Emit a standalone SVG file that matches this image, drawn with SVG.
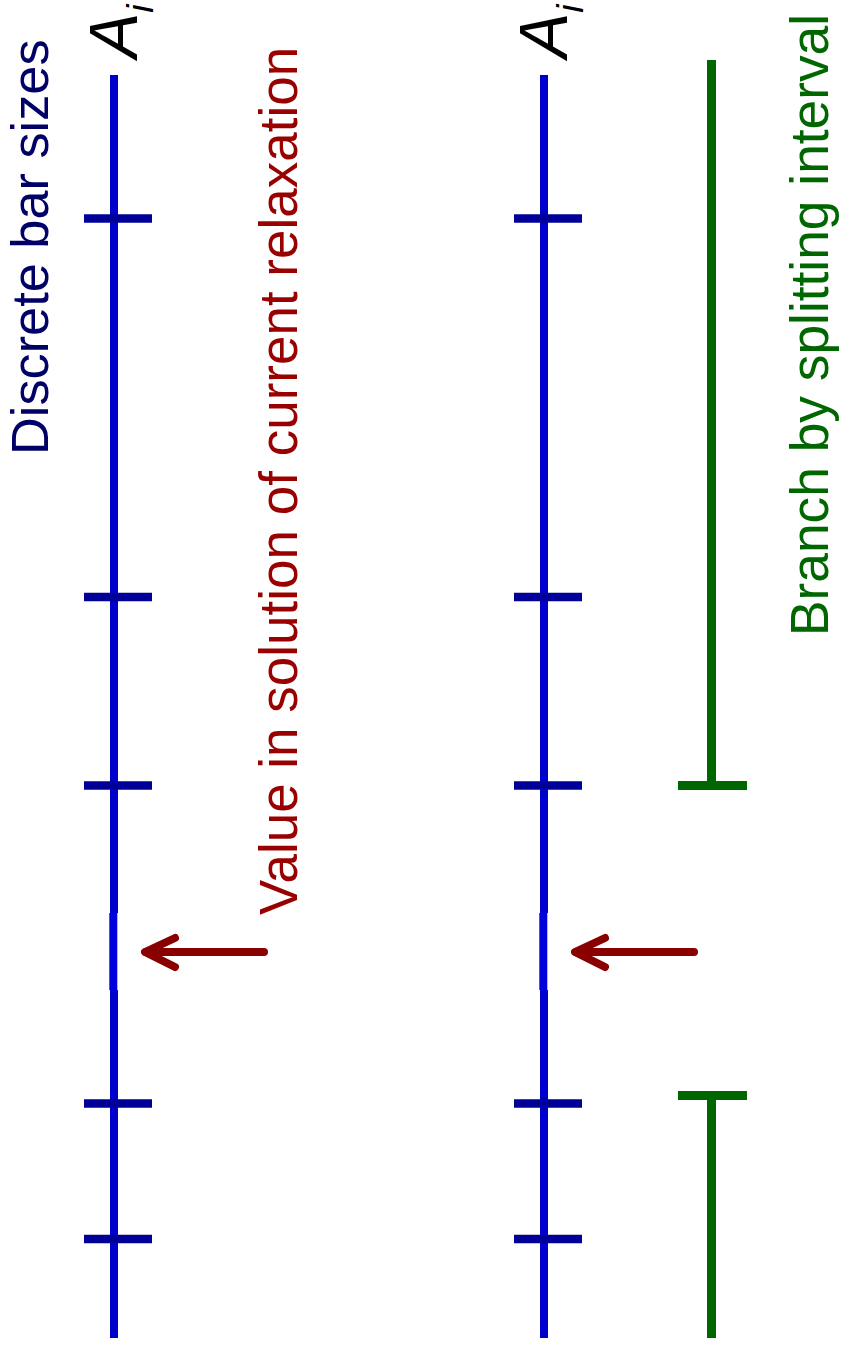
<svg xmlns="http://www.w3.org/2000/svg" width="841" height="1349" viewBox="0 0 841 1349">
<style>
.axis{stroke:#0000CC;stroke-width:8;fill:none}
.tick{stroke:#000099;stroke-width:8.5;fill:none}
.seg{stroke:#0000DD;stroke-width:8;fill:none}
.br{stroke:#006600;stroke-width:9;fill:none}
.arr{stroke:#880000;stroke-width:8;fill:none;stroke-linecap:round;stroke-linejoin:round}
.lbl{font-family:"Liberation Sans",Arial,sans-serif;font-size:52px}
.ai{font-family:"Liberation Sans",Arial,sans-serif;font-style:italic;font-size:68px;fill:#000}
</style>
<rect width="841" height="1349" fill="#fff"/>
<g id="label-discrete"><text class="lbl" fill="#000066" transform="translate(48,455) rotate(-90)" style="font-size:52.3px">Discrete bar sizes</text></g>
<g id="label-value"><text class="lbl" fill="#990000" transform="translate(297,915) rotate(-90)" style="font-size:53px">Value in solution of current relaxation</text></g>
<g id="label-branch"><text class="lbl" fill="#006600" transform="translate(828,636) rotate(-90)" style="font-size:53.3px">Branch by splitting interval</text></g>
<g id="axis-left">
<text class="ai" transform="translate(137,58) rotate(-90)">A<tspan font-size="37" dy="16">i</tspan></text>
<line class="axis" x1="114" y1="75" x2="114" y2="913"/>
<line class="axis" x1="114" y1="990" x2="114" y2="1338"/>
<line class="seg" x1="113.3" y1="913" x2="113.3" y2="990"/>
<line class="tick" x1="84" y1="218.5" x2="152" y2="218.5"/>
<line class="tick" x1="84" y1="597" x2="152" y2="597"/>
<line class="tick" x1="84" y1="785.5" x2="152" y2="785.5"/>
<line class="tick" x1="84" y1="1103.5" x2="152" y2="1103.5"/>
<line class="tick" x1="84" y1="1239" x2="152" y2="1239"/>
</g>
<g id="axis-right">
<text class="ai" transform="translate(567,58) rotate(-90)">A<tspan font-size="37" dy="16">i</tspan></text>
<line class="axis" x1="544" y1="75" x2="544" y2="913"/>
<line class="axis" x1="544" y1="990" x2="544" y2="1338"/>
<line class="seg" x1="543.3" y1="913" x2="543.3" y2="990"/>
<line class="tick" x1="514" y1="218.5" x2="582" y2="218.5"/>
<line class="tick" x1="514" y1="597" x2="582" y2="597"/>
<line class="tick" x1="514" y1="785.5" x2="582" y2="785.5"/>
<line class="tick" x1="514" y1="1103.5" x2="582" y2="1103.5"/>
<line class="tick" x1="514" y1="1239" x2="582" y2="1239"/>
</g>
<g id="branch-upper">
<line class="br" x1="711.5" y1="60" x2="711.5" y2="785.5"/>
<line class="br" x1="678" y1="785.5" x2="747" y2="785.5"/>
</g>
<g id="branch-lower">
<line class="br" x1="711.5" y1="1095.5" x2="711.5" y2="1338"/>
<line class="br" x1="678" y1="1095.5" x2="747" y2="1095.5"/>
</g>
<g id="connectors">
<line class="arr" x1="264" y1="952" x2="146" y2="952" stroke-linecap="butt"/>
<polyline class="arr" points="175,938 145,952 175,967"/>
<line class="arr" x1="694" y1="952" x2="576" y2="952" stroke-linecap="butt"/>
<polyline class="arr" points="605,938 575,952 605,967"/>
</g>
</svg>
